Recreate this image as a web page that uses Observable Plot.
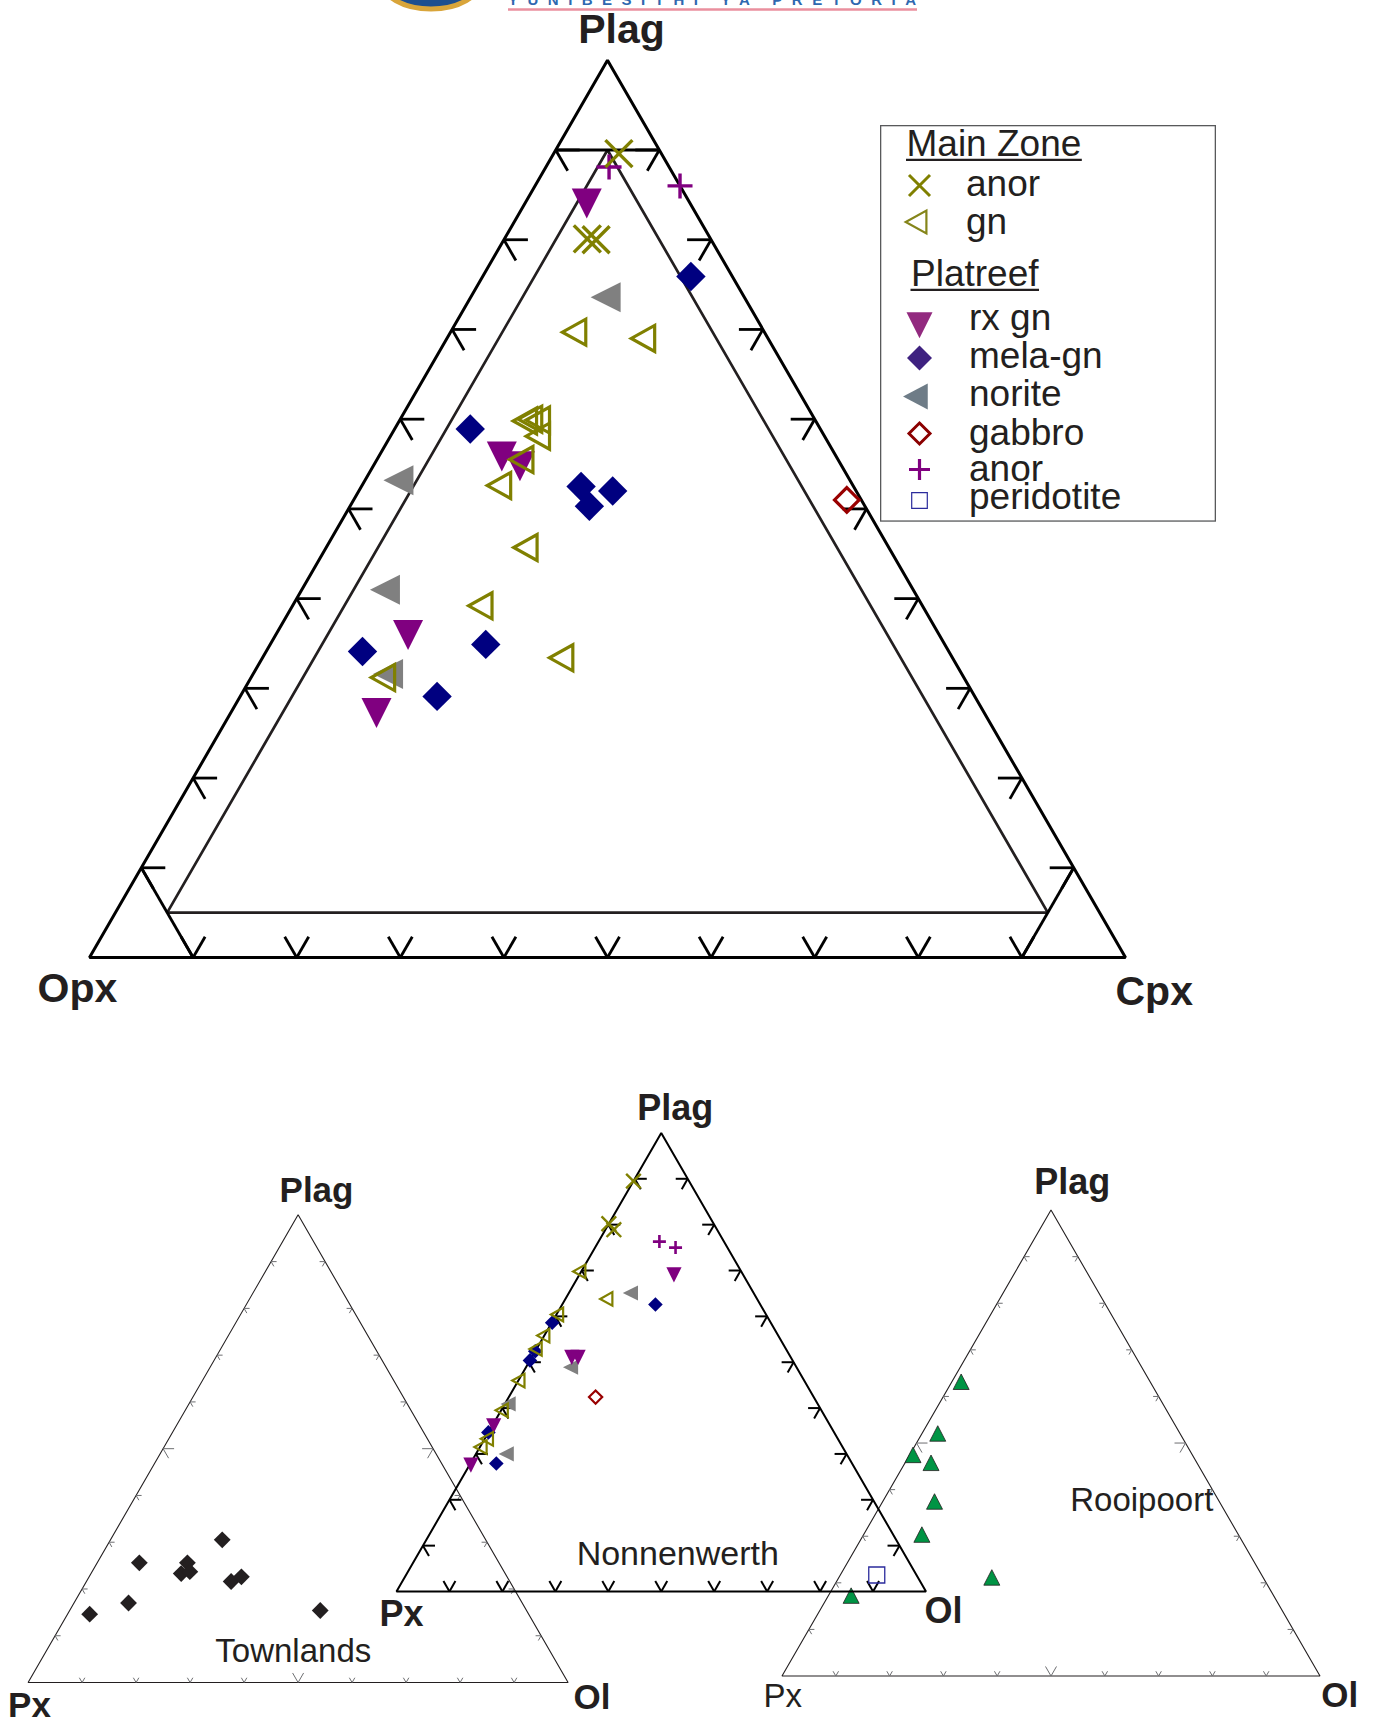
<!DOCTYPE html>
<html>
<head>
<meta charset="utf-8">
<script src="https://cdn.jsdelivr.net/npm/d3@7"></script>
<script src="https://cdn.jsdelivr.net/npm/@observablehq/plot@0.6"></script>
<style>
  html, body { margin: 0; padding: 0; background: #fff; }
  #figure { position: relative; width: 1374px; height: 1721px; overflow: hidden;
            font-family: "Liberation Sans", Arial, Helvetica, sans-serif; }
  #figure > svg { position: absolute; left: 0; top: 0; }
</style>
</head>
<body>
<div id="figure"></div>
<script>
// ---------------------------------------------------------------------------
// Modal proportions (%).  Upper diagram rows: [Plag, Opx, Cpx]
// ---------------------------------------------------------------------------
const mainZoneAnor = [[89.6, 4.1, 6.3], [80.1, 11.9, 8.0], [80.0, 11.1, 8.9]];
const mainZoneGn = [
  [69.7, 18.0, 12.3], [69.0, 11.7, 19.3], [59.8, 27.7, 12.5], [60.0, 27.1, 12.9],
  [59.9, 26.4, 13.7], [58.1, 27.3, 14.6], [55.5, 30.2, 14.3], [52.6, 33.8, 13.6],
  [45.7, 34.7, 19.6], [39.2, 42.3, 18.5], [33.4, 37.4, 29.2], [31.2, 55.7, 13.1]
];
const platreefRxGn = [[84.6, 9.7, 5.7], [56.4, 32.0, 11.6], [55.3, 30.8, 13.9], [36.5, 51.0, 12.5], [27.8, 58.4, 13.8]];
const platreefMelaGn = [
  [75.9, 4.0, 20.1], [58.9, 33.8, 7.3], [52.5, 26.3, 21.2], [52.0, 23.5, 24.5],
  [50.3, 26.6, 23.1], [34.1, 56.6, 9.3], [34.9, 44.3, 20.8], [29.1, 51.9, 19.0]
];
const platreefNorite = [[73.6, 12.9, 13.5], [53.2, 43.1, 3.7], [41.0, 50.5, 8.5], [31.6, 54.9, 13.5]];
const platreefGabbro = [[51.0, 1.4, 47.6]];
const platreefAnor = [[88.1, 5.8, 6.1], [86.0, 0.0, 14.0]];

// Lower diagrams rows: [Plag, Px, Ol]
const nwMainZoneAnor = [[89.5, 10.5, 0.0], [80.2, 19.8, 0.0], [78.9, 19.5, 1.6]];
const nwMainZoneGn = [
  [69.8, 30.2, 0.0], [63.8, 28.1, 8.1], [60.4, 39.1, 0.5], [55.8, 44.0, 0.2],
  [52.9, 46.9, 0.2], [46.0, 53.6, 0.4], [39.5, 60.0, 0.5], [33.3, 65.9, 0.8], [31.5, 68.0, 0.5]
];
const nwRxGn = [[69.6, 12.8, 17.6], [51.6, 41.1, 7.3], [51.6, 39.9, 8.5], [36.7, 63.3, 0.0], [28.1, 71.9, 0.0]];
const nwMelaGn = [[62.6, 19.8, 17.6], [58.6, 41.3, 0.1], [52.4, 47.6, 0.0], [50.4, 49.6, 0.0], [34.7, 65.3, 0.0], [27.9, 67.2, 4.9]];
const nwNorite = [[65.1, 22.8, 12.1], [48.9, 42.2, 8.9], [40.9, 58.0, 1.1], [30.0, 63.8, 6.2]];
const nwGabbro = [[42.4, 41.2, 16.4]];
const nwAnor = [[76.3, 12.2, 11.5], [75.0, 9.8, 15.2]];
const nwPeridotite = [[3.6, 7.5, 88.9]];

const townlands = [
  [30.5, 48.8, 20.7], [25.6, 66.6, 7.8], [25.6, 57.7, 16.7], [23.3, 60.0, 16.7], [23.7, 58.2, 18.1],
  [21.6, 51.6, 26.8], [22.6, 49.2, 28.2], [17.0, 72.9, 10.1], [14.6, 81.3, 4.1], [15.4, 38.2, 46.4]
];
const rooipoort = [
  [62.6, 35.4, 2.0], [51.5, 45.3, 3.2], [46.9, 52.2, 0.9], [45.2, 49.7, 5.1],
  [36.9, 53.2, 9.9], [29.8, 59.1, 11.1], [20.6, 50.7, 28.7], [16.7, 78.8, 4.5]
];

// ---------------------------------------------------------------------------
// Marker shapes (d3 symbol-type objects; "size" is the area Plot derives from r)
// ---------------------------------------------------------------------------
const rOf = size => Math.sqrt(size / Math.PI);
function triangle(direction, aspect = 1) {
  return {draw(c, size) {
    const r = rOf(size), h = 2 * r * aspect;
    const pts = {
      down: [[-r, -h / 3], [r, -h / 3], [0, 2 * h / 3]],
      up: [[-r, h / 3], [r, h / 3], [0, -2 * h / 3]],
      left: [[h / 3, -r], [h / 3, r], [-2 * h / 3, 0]]
    }[direction];
    c.moveTo(...pts[0]); c.lineTo(...pts[1]); c.lineTo(...pts[2]); c.closePath();
  }};
}
const diamond = {draw(c, size) { const r = rOf(size); c.moveTo(0, -r); c.lineTo(r, 0); c.lineTo(0, r); c.lineTo(-r, 0); c.closePath(); }};
const saltire = {draw(c, size) { const r = rOf(size); c.moveTo(-r, -r); c.lineTo(r, r); c.moveTo(r, -r); c.lineTo(-r, r); }};
const plus = {draw(c, size) { const r = rOf(size); c.moveTo(-r, 0); c.lineTo(r, 0); c.moveTo(0, -r); c.lineTo(0, r); }};
const square = {draw(c, size) { const r = rOf(size); c.rect(-r, -r, 2 * r, 2 * r); }};

const triDown = triangle("down", 1);
const triLeft = triangle("left", 1);
const triLeftOpen = triangle("left", 0.9);
const triUp = triangle("up", 0.97);

// ---------------------------------------------------------------------------
// Ternary helpers.  Positions are fractions: x = right + top/2, y = top.
// ---------------------------------------------------------------------------
const at = (top, right) => ({x: right + top / 2, y: top});
const seg = (t1, r1, t2, r2) => ({x1: r1 + t1 / 2, y1: t1, x2: r2 + t2 / 2, y2: t2});
const closed = pts => [...pts, pts[0], pts[1]];
const px = d => (d[2] + d[0] / 2) / 100;   // composition row -> x fraction
const py = d => d[0] / 100;                 // composition row -> y fraction

// tick arms along both grid directions at every 10 % on each edge
function edgeTicks(side, len, bigLen) {
  const out = [];
  for (let k = 1; k <= 9; ++k) {
    const p = k / 10, d = (k === 5 && bigLen ? bigLen : len) / side;
    out.push(seg(p, 0, p, d), seg(p, 0, p - d, d));                 // left edge
    out.push(seg(0, p, d, p - d), seg(0, p, d, p));                 // bottom edge
    out.push(seg(p, 1 - p, p, 1 - p - d), seg(p, 1 - p, p - d, 1 - p)); // right edge
  }
  return out;
}

const links = (data, o) => Plot.link(data, {x1: "x1", y1: "y1", x2: "x2", y2: "y2", ...o});
const outline = (pts, o) => Plot.line(closed(pts), {x: "x", y: "y", strokeLinejoin: "miter", strokeLinecap: "butt", ...o});
const dots = (rows, o) => Plot.dot(rows, {x: px, y: py, ...o});
const FONT = "Liberation Sans, Arial, Helvetica, sans-serif";
const INK = "#231f20";
function label(vertex, text, o) {
  return Plot.text([{...vertex, text}], {x: "x", y: "y", text: "text", lineAnchor: "bottom",
    fontFamily: FONT, fill: INK, ...o});
}

function ternaryPlot({left, bottom, side}, marks) {
  return Plot.plot({
    width: 1374, height: 1721, margin: 0,
    style: {background: "transparent", overflow: "visible"},
    x: {type: "linear", domain: [0, 1], range: [left, left + side], axis: null},
    y: {type: "linear", domain: [0, 1], range: [bottom, bottom - side * Math.sqrt(3) / 2], axis: null},
    marks
  });
}

const L = at(0, 0), R = at(0, 1), T = at(1, 0), MID = at(0, 0.5);

const colors = {olive: "#808000", purple: "#800080", navy: "#000080", gray: "#808080", red: "#990000", blue: "#2b2b9c", green: "#009444"};

// ---------------------------------------------------------------------------
// Diagram frames
// ---------------------------------------------------------------------------
const mainFrame = {left: 89, bottom: 957, side: 1036};
const townFrame = {left: 27.6, bottom: 1682, side: 540};
const nonnFrame = {left: 396, bottom: 1591, side: 529.5};
const rooiFrame = {left: 781.5, bottom: 1675.5, side: 538};

const fig = document.getElementById("figure");

// Townlands (thin frame)
fig.appendChild(ternaryPlot(townFrame, [
  outline([L, R, T], {stroke: INK, strokeWidth: 1.1}),
  links(edgeTicks(townFrame.side, 5.5, 11), {stroke: "#6d6e71", strokeWidth: 1}),
  dots(townlands, {r: 8.4, symbol: diamond, fill: INK, stroke: "none"}),
  label(T, "Plag", {dx: 18.4, dy: -12.4, fontSize: 35, fontWeight: "bold"}),
  label(L, "Px", {dx: -20, dy: 34, textAnchor: "start", fontSize: 35, fontWeight: "bold"}),
  label(R, "Ol", {dx: 5.4, dy: 26, textAnchor: "start", fontSize: 35, fontWeight: "bold"}),
  label(MID, "Townlands", {dx: -4.8, dy: -21, fontSize: 33})
]));

// Rooipoort (thin frame)
fig.appendChild(ternaryPlot(rooiFrame, [
  outline([L, R, T], {stroke: INK, strokeWidth: 1.1}),
  links(edgeTicks(rooiFrame.side, 5.5, 11), {stroke: "#6d6e71", strokeWidth: 1}),
  dots(rooipoort, {r: 8, symbol: triUp, fill: colors.green, stroke: INK, strokeWidth: 0.8}),
  label(T, "Plag", {dx: 21.3, dy: -16, fontSize: 36, fontWeight: "bold"}),
  label(L, "Px", {dx: -18.5, dy: 30.5, textAnchor: "start", fontSize: 33}),
  label(R, "Ol", {dx: 1.2, dy: 30.5, textAnchor: "start", fontSize: 35, fontWeight: "bold"}),
  label(MID, "Rooipoort", {dx: 90.8, dy: -165.5, fontSize: 33})
]));

// Nonnenwerth
fig.appendChild(ternaryPlot(nonnFrame, [
  outline([L, R, T], {stroke: "#000", strokeWidth: 2}),
  links(edgeTicks(nonnFrame.side, 12), {stroke: "#000", strokeWidth: 2}),
  dots(nwNorite, {r: 7.6, symbol: triLeft, fill: colors.gray, stroke: "none"}),
  dots(nwMelaGn, {r: 7.3, symbol: diamond, fill: colors.navy, stroke: "none"}),
  dots(nwRxGn, {r: 7.6, symbol: triDown, fill: colors.purple, stroke: "none"}),
  dots(nwGabbro, {r: 6.6, symbol: diamond, fill: "none", stroke: colors.red, strokeWidth: 2.2}),
  dots(nwAnor, {r: 6.5, symbol: plus, fill: "none", stroke: colors.purple, strokeWidth: 2.6}),
  dots(nwPeridotite, {r: 8, symbol: square, fill: "none", stroke: colors.blue, strokeWidth: 1.3}),
  dots(nwMainZoneGn, {r: 6.8, symbol: triLeftOpen, fill: "none", stroke: colors.olive, strokeWidth: 2.2}),
  dots(nwMainZoneAnor, {r: 7.3, symbol: saltire, fill: "none", stroke: colors.olive, strokeWidth: 2.4}),
  label(T, "Plag", {dx: 13.9, dy: -13.4, fontSize: 36, fontWeight: "bold"}),
  label(L, "Px", {dx: -17, dy: 34, textAnchor: "start", fontSize: 36, fontWeight: "bold"}),
  label(R, "Ol", {dx: -1.5, dy: 31.8, textAnchor: "start", fontSize: 36, fontWeight: "bold"}),
  label(MID, "Nonnenwerth", {dx: 16.5, dy: -26.7, fontSize: 34})
]));

// Upper Plag – Opx – Cpx diagram with 5 % inner field and 90 % corner cuts
fig.appendChild(ternaryPlot(mainFrame, [
  outline([L, R, T], {stroke: "#000", strokeWidth: 3}),
  outline([at(0.9, 0.05), at(0.05, 0.05), at(0.05, 0.9)], {stroke: INK, strokeWidth: 2.7}),
  links([seg(0.9, 0, 0.9, 0.1), seg(0.1, 0, 0, 0.1), seg(0.1, 0.9, 0, 0.9)], {stroke: "#000", strokeWidth: 2.8}),
  links(edgeTicks(mainFrame.side, 24), {stroke: "#000", strokeWidth: 2.8}),
  dots(platreefNorite, {r: 15, symbol: triLeft, fill: colors.gray, stroke: "none"}),
  dots(platreefMelaGn, {r: 14.7, symbol: diamond, fill: colors.navy, stroke: "none"}),
  dots(platreefRxGn, {r: 15, symbol: triDown, fill: colors.purple, stroke: "none"}),
  dots(platreefGabbro, {r: 12.3, symbol: diamond, fill: "none", stroke: colors.red, strokeWidth: 3.2}),
  dots(platreefAnor, {r: 12.5, symbol: plus, fill: "none", stroke: colors.purple, strokeWidth: 3.4}),
  dots(mainZoneGn, {r: 13, symbol: triLeftOpen, fill: "none", stroke: colors.olive, strokeWidth: 3.2}),
  dots(mainZoneAnor, {r: 13.5, symbol: saltire, fill: "none", stroke: colors.olive, strokeWidth: 3.4}),
  label(T, "Plag", {dx: 14, dy: -16.8, fontSize: 41, fontWeight: "bold"}),
  label(L, "Opx", {dx: -52, dy: 44, textAnchor: "start", fontSize: 41, fontWeight: "bold"}),
  label(R, "Cpx", {dx: -10, dy: 47, textAnchor: "start", fontSize: 41, fontWeight: "bold"})
]));

// ---------------------------------------------------------------------------
// Legend
// ---------------------------------------------------------------------------
const legendEntries = [
  {heading: "Main Zone"},
  {label: "anor", symbol: saltire, r: 10.5, fill: "none", stroke: colors.olive, width: 3},
  {label: "gn", symbol: triLeftOpen, r: 11.5, fill: "none", stroke: "#85851a", width: 2.2},
  {heading: "Platreef"},
  {label: "rx gn", symbol: triDown, r: 13, fill: "#922a7f"},
  {label: "mela-gn", symbol: diamond, r: 12.5, fill: "#3e2180"},
  {label: "norite", symbol: triangle("left", 0.95), r: 13, fill: "#6e7c87"},
  {label: "gabbro", symbol: diamond, r: 10.5, fill: "none", stroke: "#8b0000", width: 3},
  {label: "anor", symbol: plus, r: 10.5, fill: "none", stroke: colors.purple, width: 3.2},
  {label: "peridotite", symbol: square, r: 7.8, fill: "none", stroke: colors.blue, width: 1.2}
];
// baselines (legend-local px) and symbol offsets for each row
const legendBaselines = [30.5, 71, 109, 160.5, 205, 243, 280.5, 320, 356, 384];
const legendSymbolY = [null, 60.5, 97, null, 196, 233, 271.5, 308.5, 344.5, 375.5];

const legend = d3.create("svg").attr("width", 336).attr("height", 397)
  .style("left", "880px").style("top", "125px");
fig.appendChild(legend.node());   // attached first so text lengths can be measured
legend.append("rect").attr("x", 0.65).attr("y", 0.65).attr("width", 334.7).attr("height", 395.4)
  .attr("fill", "#fff").attr("stroke", "#58595b").attr("stroke-width", 1.3);
legendEntries.forEach((e, i) => {
  const base = legendBaselines[i];
  if (e.heading) {
    const x0 = i === 0 ? 26.5 : 31;
    const t = legend.append("text").attr("x", x0).attr("y", base).attr("font-family", FONT)
      .attr("font-size", 37).attr("fill", INK).text(e.heading);
    const w = t.node().getComputedTextLength();
    legend.append("line").attr("x1", x0 - 0.5).attr("x2", x0 + w + 0.5).attr("y1", base + 4.3).attr("y2", base + 4.3)
      .attr("stroke", INK).attr("stroke-width", 2.2);
  } else {
    legend.append("path").attr("transform", `translate(39.5,${legendSymbolY[i]})`)
      .attr("d", d3.symbol(e.symbol, Math.PI * e.r * e.r)())
      .attr("fill", e.fill).attr("stroke", e.stroke || "none").attr("stroke-width", e.width || 0);
    legend.append("text").attr("x", i < 3 ? 86 : 89).attr("y", base).attr("font-family", FONT)
      .attr("font-size", 37).attr("fill", INK).text(e.label);
  }
});

// ---------------------------------------------------------------------------
// Masthead strip along the top edge
// ---------------------------------------------------------------------------
const mast = d3.create("svg").attr("width", 1374).attr("height", 14);
mast.append("ellipse").attr("cx", 431).attr("cy", -20).attr("rx", 50).attr("ry", 29)
  .attr("fill", "#1d4f8f").attr("stroke", "#d9a53a").attr("stroke-width", 5);
mast.append("text").attr("x", 508).attr("y", 4.5).attr("textLength", 408).attr("lengthAdjust", "spacing")
  .attr("font-family", FONT).attr("font-weight", "bold").attr("font-size", 15).attr("fill", "#2f68b0")
  .text("YUNIBESITHI YA PRETORIA");
mast.append("line").attr("x1", 508).attr("x2", 917).attr("y1", 9.5).attr("y2", 9.5)
  .attr("stroke", "#ea8f9e").attr("stroke-width", 2.6);
fig.appendChild(mast.node());
</script>
</body>
</html>
